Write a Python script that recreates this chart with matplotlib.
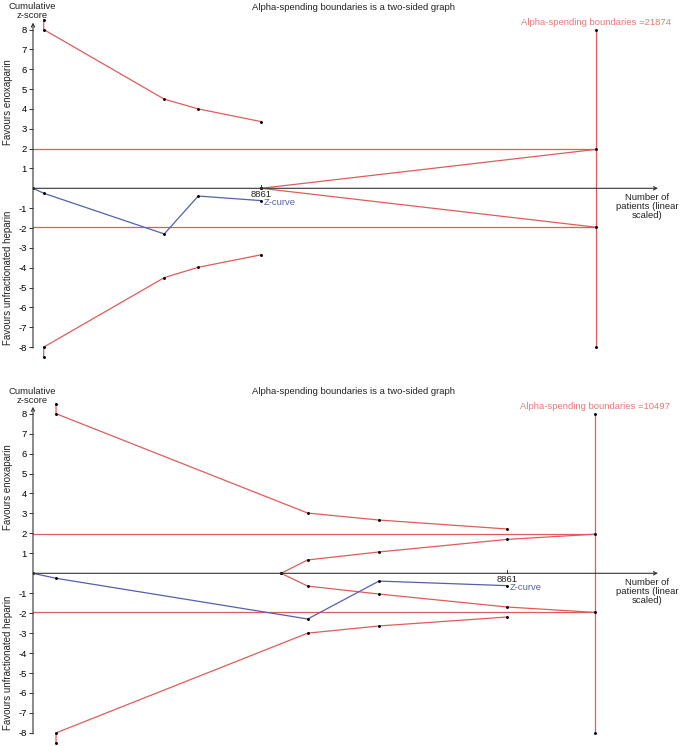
import numpy as np
import matplotlib.pyplot as plt

plt.rcParams['font.family'] = ['Liberation Sans', 'DejaVu Sans']

# top panel (required information size 21874)
ris_top = 21874
z_n_top = [0, 416, 5100, 6420, 8861]
z_top = [0, -0.25, -2.30, -0.39, -0.62]
bnd_n_top = [416, 416, 5100, 6420, 8861]
upper_top = [8.5, 8.0, 4.49, 4.0, 3.36]
lower_top = [-8.5, -8.0, -4.5, -3.98, -3.35]
fut_n_top = [8861, 21874]
fut_up_top = [0, 1.96]
fut_lo_top = [0, -1.96]

# bottom panel (required information size 10497)
ris_bot = 10497
z_n_bot = [0, 430, 5131, 6463, 8861]
z_bot = [0, -0.25, -2.29, -0.39, -0.62]
bnd_n_bot = [430, 430, 5131, 6463, 8861]
upper_bot = [8.5, 8.0, 3.02, 2.67, 2.22]
lower_bot = [-8.5, -8.0, -3.0, -2.64, -2.19]
fut_n_bot = [4633, 5131, 6463, 8861, 10497]
fut_up_bot = [0, 0.67, 1.07, 1.70, 1.96]
fut_lo_bot = [0, -0.64, -1.04, -1.69, -1.96]

n_total = 8861
yticks = [8, 7, 6, 5, 4, 3, 2, 1, -1, -2, -3, -4, -5, -6, -7, -8]

RED = '#e05c5c'
RED_TXT = '#e87878'
BLUE = '#5560ad'
AX = '#333333'
FS = 6.8
MS = 1.1

W, H = 682, 746
fig = plt.figure(figsize=(W / 100, H / 100), dpi=100)


def make_axes(y0_px, px_per_unit, n_per_px, ylo, yhi):
    x0_px = 33
    x1_px = 658
    top_px = y0_px - yhi * px_per_unit
    bot_px = y0_px - ylo * px_per_unit
    ax = fig.add_axes([x0_px / W, 1 - bot_px / H, (x1_px - x0_px) / W, (bot_px - top_px) / H])
    ax.set_xlim(0, (x1_px - x0_px) * n_per_px)
    ax.set_ylim(ylo, yhi)
    ax.patch.set_alpha(0)
    return ax


def panel(ax, ris, z_n, z, bnd_n, upper, lower, fut_n, fut_up, fut_lo):
    xmax = ax.get_xlim()[1]
    for s in ['top', 'right', 'bottom', 'left']:
        ax.spines[s].set_visible(False)
    # axes with arrows
    ax.annotate('', xy=(0, 8.35), xytext=(0, -8.05),
                arrowprops=dict(arrowstyle='->', color=AX, lw=0.8, shrinkA=0, shrinkB=0,
                                mutation_scale=6))
    ax.annotate('', xy=(xmax, 0), xytext=(0, 0),
                arrowprops=dict(arrowstyle='->', color=AX, lw=0.8, shrinkA=0, shrinkB=0,
                                mutation_scale=6))
    ax.set_yticks(yticks)
    ax.set_yticklabels([str(t) for t in yticks])
    ax.tick_params(axis='y', length=3, width=0.7, color=AX, labelsize=FS, pad=1.5)
    ax.set_xticks([])

    dots = dict(marker='o', ms=MS, mfc='k', mec='k')
    # conventional boundaries
    ax.plot([0, ris], [1.96, 1.96], color=RED, lw=0.9)
    ax.plot([0, ris], [-1.96, -1.96], color=RED, lw=0.9)
    ax.plot([ris, ris], [-8, 8], color=RED, lw=0.9, **dots)

    # alpha-spending boundaries
    ax.plot(bnd_n, upper, color=RED, lw=0.9, **dots)
    ax.plot(bnd_n, lower, color=RED, lw=0.9, **dots)
    ax.plot(fut_n, fut_up, color=RED, lw=0.9, **dots)
    ax.plot(fut_n, fut_lo, color=RED, lw=0.9, **dots)

    # z-curve
    ax.plot(z_n, z, color=BLUE, lw=0.9, **dots)
    ax.text(z_n[-1] + xmax * 0.004, z[-1] - 0.08, 'Z-curve', color=BLUE, fontsize=FS,
            ha='left', va='center')
    ax.plot([n_total, n_total], [0, 0.15], color=AX, lw=0.7)
    ax.text(n_total, -0.08, str(n_total), fontsize=FS, ha='center', va='top', color='#222222')

    ax.text(ris, 8.15, 'Alpha-spending boundaries =%d' % ris, color=RED_TXT, fontsize=FS,
            ha='center', va='bottom')
    ax.text(xmax * 0.983, -0.25, 'Number of\npatients (linear\nscaled)', fontsize=FS,
            ha='center', va='top', linespacing=0.95, color='#222222')


ax1 = make_axes(188.3, 19.85, 38.853, -9, 9)
panel(ax1, ris_top, z_n_top, z_top, bnd_n_top, upper_top, lower_top,
      fut_n_top, fut_up_top, fut_lo_top)

ax2 = make_axes(573.3, 19.95, 18.68, -8.65, 9)
panel(ax2, ris_bot, z_n_bot, z_bot, bnd_n_bot, upper_bot, lower_bot,
      fut_n_bot, fut_up_bot, fut_lo_bot)

for y0 in [0, 385]:
    fig.text(353 / W, 1 - (y0 + 7) / H, 'Alpha-spending boundaries is a two-sided graph',
             fontsize=FS, ha='center', va='center', color='#222222')
    fig.text(32 / W, 1 - (y0 + 11) / H, 'Cumulative\nz-score', fontsize=FS,
             ha='center', va='center', linespacing=0.95, color='#222222')
    fig.text(8 / W, 1 - (y0 + 102) / H, 'Favours enoxaparin', fontsize=FS + 0.2,
             rotation=90, ha='center', va='center', color='#222222')
    fig.text(8 / W, 1 - (y0 + 278) / H, 'Favours unfractionated heparin', fontsize=FS + 0.2,
             rotation=90, ha='center', va='center', color='#222222')

fig.savefig('out.png', dpi=100)
